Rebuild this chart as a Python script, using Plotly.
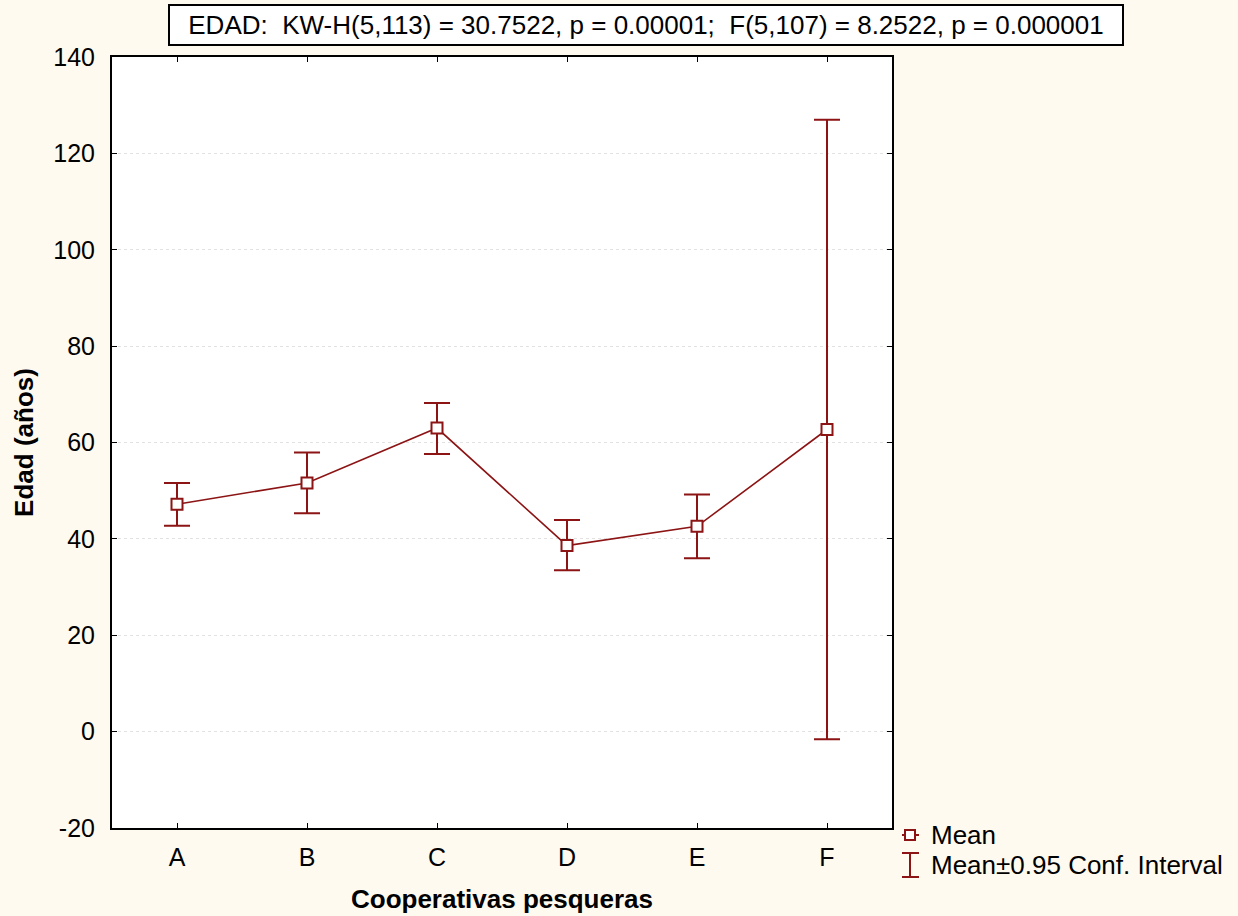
import plotly.graph_objects as go

categories = ["A", "B", "C", "D", "E", "F"]
mean_vals = [47.2, 51.6, 63.0, 38.6, 42.6, 62.7]
ci_upper = [51.6, 57.9, 68.2, 43.9, 49.2, 127.0]
ci_lower = [42.7, 45.3, 57.6, 33.5, 36.0, -1.6]
y_ticks = [-20, 0, 20, 40, 60, 80, 100, 120, 140]
y_tick_labels = ["-20", "0", "20", "40", "60", "80", "100", "120", "140"]

title_text = "EDAD:  KW-H(5,113) = 30.7522, p = 0.00001;  F(5,107) = 8.2522, p = 0.000001"
color = "#8C1414"
bg = "#FFFAF0"

W, H = 1238, 916
L, R, T, B = 112, 892, 57, 828

err_plus = [u - m for u, m in zip(ci_upper, mean_vals)]
err_minus = [m - l for m, l in zip(mean_vals, ci_lower)]

fig = go.Figure()
fig.add_trace(go.Scatter(
    x=categories, y=mean_vals, mode="lines+markers",
    line=dict(color=color, width=1.6),
    marker=dict(symbol="square", size=11, color="white", line=dict(color=color, width=2)),
    error_y=dict(type="data", symmetric=False, array=err_plus, arrayminus=err_minus,
                 color=color, thickness=2, width=13),
    showlegend=False,
))

def px(xp):
    return (xp - L) / (R - L)

def py(yp):
    return (B - yp) / (B - T)

shapes = [
    dict(type="line", xref="paper", yref="paper", x0=px(902), x1=px(919), y0=py(835), y1=py(835),
         line=dict(color=color, width=2)),
    dict(type="rect", xref="paper", yref="paper", x0=px(905), x1=px(915), y0=py(830), y1=py(840),
         line=dict(color=color, width=2), fillcolor="white"),
    dict(type="line", xref="paper", yref="paper", x0=px(910), x1=px(910), y0=py(853), y1=py(877),
         line=dict(color=color, width=2)),
    dict(type="line", xref="paper", yref="paper", x0=px(902), x1=px(919), y0=py(853), y1=py(853),
         line=dict(color=color, width=2)),
    dict(type="line", xref="paper", yref="paper", x0=px(902), x1=px(919), y0=py(877), y1=py(877),
         line=dict(color=color, width=2)),
]

annotations = [
    dict(text=title_text, xref="paper", yref="paper", x=px(646), y=py(25),
         xanchor="center", yanchor="middle", showarrow=False,
         font=dict(family="Liberation Sans, Arial", size=26, color="black"),
         bgcolor="white", bordercolor="black", borderwidth=2, borderpad=2,
         width=948, height=34),
    dict(text="Mean", xref="paper", yref="paper", x=px(929), y=py(835),
         xanchor="left", yanchor="middle", showarrow=False,
         font=dict(family="Liberation Sans, Arial", size=26, color="black")),
    dict(text="Mean±0.95 Conf. Interval", xref="paper", yref="paper", x=px(929), y=py(865),
         xanchor="left", yanchor="middle", showarrow=False,
         font=dict(family="Liberation Sans, Arial", size=26, color="black")),
]

fig.update_layout(
    width=W, height=H,
    margin=dict(l=L, r=W - R, t=T, b=H - B, pad=0, autoexpand=False),
    paper_bgcolor=bg,
    plot_bgcolor="white",
    showlegend=False,
    shapes=shapes,
    annotations=annotations,
    font=dict(family="Liberation Sans, Arial", color="black"),
    xaxis=dict(
        range=[-0.5, 5.5], tickvals=list(range(len(categories))), ticktext=categories,
        showline=True, linecolor="black", linewidth=2, mirror="ticks",
        ticks="inside", ticklen=5, tickcolor="black", tickwidth=1,
        ticklabelstandoff=6, automargin=False,
        showgrid=False, zeroline=False,
        tickfont=dict(size=25),
        title=dict(text="<b>Cooperativas pesqueras</b>", font=dict(size=26), standoff=20),
    ),
    yaxis=dict(
        range=[-20, 140], tickvals=y_ticks, ticktext=y_tick_labels,
        showline=True, linecolor="black", linewidth=2, mirror="ticks",
        ticks="inside", ticklen=5, tickcolor="black", tickwidth=1,
        ticklabelstandoff=10, automargin=False,
        showgrid=True, gridcolor="#E2E2E2", griddash="dot", gridwidth=1,
        zeroline=False,
        tickfont=dict(size=25),
        title=dict(text="<b>Edad (años)</b>", font=dict(size=26), standoff=12),
    ),
)

fig.write_html(
    "out.html",
    config={"displayModeBar": False},
    post_script="document.body.style.margin='0';document.body.style.background='%s';" % bg,
)
